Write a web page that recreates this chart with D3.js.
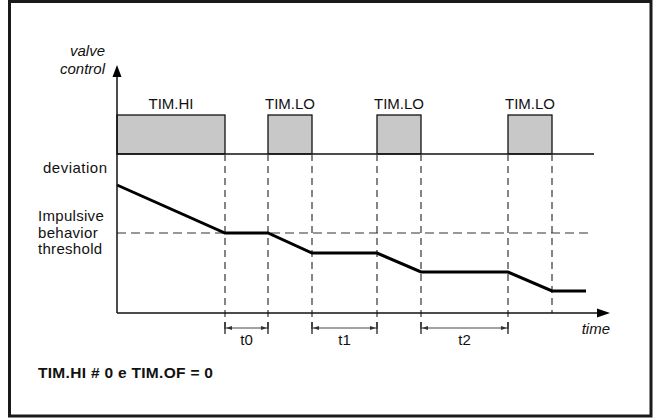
<!DOCTYPE html>
<html><head><meta charset="utf-8">
<script src="https://cdn.jsdelivr.net/npm/d3@7"></script>
<style>body{margin:0;background:#fff}svg{display:block}text{font-family:"Liberation Sans",Arial,Helvetica,sans-serif;fill:#111}</style>
</head><body><svg id="c" width="654" height="418"></svg>
<script>
// Data (time in arbitrary units, levels in arbitrary units)
const pulseLabels = ["TIM.HI", "TIM.LO", "TIM.LO", "TIM.LO"];
const pulseStart = [0, 151, 260, 391];
const pulseEnd   = [108, 195, 304, 435];
const pulseLow = 159, pulseHigh = 198, pulseLineEnd = 477;
const devTime  = [0, 108, 151, 195, 260, 304, 391, 435, 469];
const devValue = [128, 80, 80, 60, 60, 41, 41, 22, 22];
const threshold = 80, thresholdEnd = 475;
const markerTimes = [108, 151, 195, 260, 304, 391, 435];
const markerExtends = [true, true, true, true, true, true, false];
const intervalLabels = ["t0", "t1", "t2"];
const intervalStart = [108, 195, 304];
const intervalEnd = [151, 260, 391];
const axisTimeMax = 493, axisValueMax = 248;

const svg = d3.select("#c");
const x = d3.scaleLinear().domain([0, axisTimeMax]).range([117, 610]);
const y = d3.scaleLinear().domain([0, axisValueMax]).range([313, 65]);

// frame
svg.append("rect").attr("x", 9.5).attr("y", 1.5).attr("width", 641.5).attr("height", 414.5)
  .attr("fill", "none").attr("stroke", "#1a1a1a").attr("stroke-width", 3);

const defs = svg.append("defs");
defs.append("marker").attr("id","ah").attr("viewBox","0 0 10 10").attr("refX",10).attr("refY",5)
  .attr("markerWidth",5).attr("markerHeight",5).attr("orient","auto-start-reverse")
  .append("path").attr("d","M0,1.5 L10,5 L0,8.5 Z").attr("fill","#333");

// pulses
svg.selectAll("rect.pulse").data(pulseStart).join("rect").attr("class","pulse")
  .attr("x", (d,i)=>x(d)).attr("y", y(pulseHigh))
  .attr("width", (d,i)=>x(pulseEnd[i])-x(d)).attr("height", y(pulseLow)-y(pulseHigh))
  .attr("fill","#c8c8c8").attr("stroke","#111").attr("stroke-width",1.3);
svg.selectAll("text.plab").data(pulseLabels).join("text").attr("class","plab")
  .attr("x",(d,i)=>(x(pulseStart[i])+x(pulseEnd[i]))/2).attr("y", y(pulseHigh)-6)
  .attr("text-anchor","middle").attr("font-size",15).text(d=>d);
// pulse baseline
svg.append("line").attr("x1",x(0)).attr("x2",x(pulseLineEnd)).attr("y1",y(pulseLow)).attr("y2",y(pulseLow))
  .attr("stroke","#111").attr("stroke-width",1.3);

// vertical dashed markers
svg.selectAll("line.mk").data(markerTimes).join("line").attr("class","mk")
  .attr("x1",d=>x(d)).attr("x2",d=>x(d)).attr("y1",y(pulseLow))
  .attr("y2",(d,i)=>markerExtends[i]? 333 : y(0))
  .attr("stroke","#444").attr("stroke-width",1.3).attr("stroke-dasharray","7,5");

// threshold
svg.append("line").attr("x1",x(0)).attr("x2",x(thresholdEnd)).attr("y1",y(threshold)).attr("y2",y(threshold))
  .attr("stroke","#333").attr("stroke-width",1.2).attr("stroke-dasharray","9,5");

// deviation line
svg.append("path").datum(devTime.map((t,i)=>[t,devValue[i]]))
  .attr("d", d3.line().x(d=>x(d[0])).y(d=>y(d[1])))
  .attr("fill","none").attr("stroke","#000").attr("stroke-width",3).attr("stroke-linejoin","miter");

// axes
svg.append("line").attr("x1",x(0)).attr("x2",x(0)).attr("y1",y(0)).attr("y2",y(axisValueMax)+10)
  .attr("stroke","#111").attr("stroke-width",1.5);
svg.append("path").attr("d",`M${x(0)},${y(axisValueMax)} L${x(0)-4.5},${y(axisValueMax)+12} L${x(0)+4.5},${y(axisValueMax)+12} Z`).attr("fill","#000");
svg.append("line").attr("x1",x(0)).attr("x2",x(axisTimeMax)-10).attr("y1",y(0)).attr("y2",y(0))
  .attr("stroke","#111").attr("stroke-width",1.5);
svg.append("path").attr("d",`M${x(axisTimeMax)},${y(0)} L${x(axisTimeMax)-13},${y(0)-4.5} L${x(axisTimeMax)-13},${y(0)+4.5} Z`).attr("fill","#000");

// intervals
svg.selectAll("line.iv").data(intervalStart).join("line").attr("class","iv")
  .attr("x1",d=>x(d)+1).attr("x2",(d,i)=>x(intervalEnd[i])-1).attr("y1",328).attr("y2",328)
  .attr("stroke","#444").attr("stroke-width",1.2)
  .attr("marker-start","url(#ah)").attr("marker-end","url(#ah)");
svg.selectAll("line.ivt").data(intervalStart.concat(intervalEnd)).join("line").attr("class","ivt")
  .attr("x1",d=>x(d)).attr("x2",d=>x(d)).attr("y1",322).attr("y2",334)
  .attr("stroke","#222").attr("stroke-width",1.3);
svg.selectAll("text.ivl").data(intervalLabels).join("text").attr("class","ivl")
  .attr("x",(d,i)=>(x(intervalStart[i])+x(intervalEnd[i]))/2).attr("y",345)
  .attr("text-anchor","middle").attr("font-size",15).text(d=>d);

// labels
svg.append("text").attr("x",105).attr("y",56).attr("text-anchor","end").attr("font-size",15).attr("font-style","italic").text("valve");
svg.append("text").attr("x",105).attr("y",74).attr("text-anchor","end").attr("font-size",15).attr("font-style","italic").text("control");
svg.append("text").attr("x",610).attr("y",334).attr("text-anchor","end").attr("font-size",15).attr("font-style","italic").text("time");
svg.append("text").attr("x",43).attr("y",173).attr("font-size",15).attr("letter-spacing",0.5).text("deviation");
["Impulsive","behavior","threshold"].forEach((t,i)=>
  svg.append("text").attr("x",38).attr("y",221+i*16.5).attr("font-size",15).attr("letter-spacing",0.3).text(t));
svg.append("text").attr("x",38).attr("y",378).attr("font-size",15.5).attr("font-weight","bold").attr("letter-spacing",0.3).text("TIM.HI # 0 e TIM.OF = 0");
</script></body></html>
